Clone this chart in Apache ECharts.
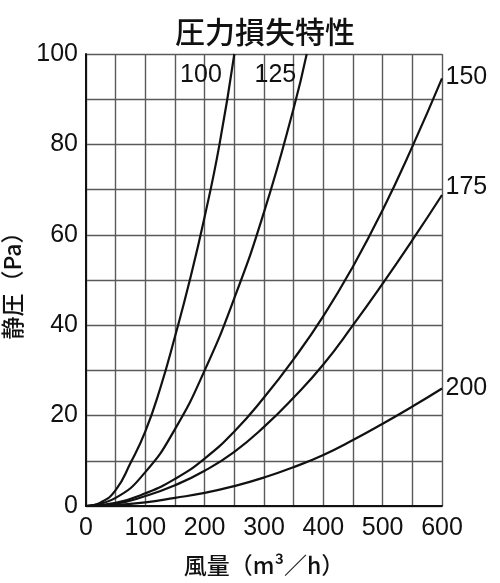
<!DOCTYPE html>
<html>
<head>
<meta charset="utf-8">
<script src="https://cdn.jsdelivr.net/npm/echarts@6/dist/echarts.min.js"></script>
<style>
  html, body { margin: 0; padding: 0; background: #fff; }
  #chart { width: 500px; height: 583px; }
</style>
</head>
<body>
<div id="chart"></div>
<script>
// 風量 (m3/h) と 静圧 (Pa) の読み取り値
var curveNames = ['100', '125', '150', '175', '200'];

var flow100 = [0, 25, 50, 75, 100, 125, 150, 175, 200, 225, 250];
var pa100   = [0, 0.8, 3.5, 9.5, 16.5, 26, 37.5, 50, 64, 80, 100];

var flow125 = [0, 50, 100, 150, 200, 250, 300, 350, 372];
var pa125   = [0, 1.8, 7.5, 17, 30, 46, 65, 88, 100];

var flow150 = [0, 50, 100, 150, 200, 250, 300, 350, 400, 450, 500, 550, 600];
var pa150   = [0, 0.7, 2.8, 6, 10.5, 16.5, 24, 32.5, 42, 53, 65.5, 79.5, 94.6];

var flow175 = [0, 50, 100, 150, 200, 250, 300, 350, 400, 450, 500, 550, 600];
var pa175   = [0, 0.5, 2.2, 4.6, 7.8, 12, 17.5, 24, 31.3, 40, 49.2, 58.8, 68.8];

var flow200 = [0, 50, 100, 150, 200, 250, 300, 350, 400, 450, 500, 550, 600];
var pa200   = [0, 0.2, 0.8, 1.8, 2.9, 4.4, 6.3, 8.6, 11.3, 14.6, 18.2, 22, 26];

var xTicks = [0, 100, 200, 300, 400, 500, 600];
var yTicks = [0, 20, 40, 60, 80, 100];

var flows = [flow100, flow125, flow150, flow175, flow200];
var pas = [pa100, pa125, pa150, pa175, pa200];

// ラベル位置（曲線の終点からのずれ）
var labelPos = [
  { position: [-12, 22], align: 'right' },
  { position: [-10, 22], align: 'right' },
  { position: [4, -1], align: 'left' },
  { position: [4, -7], align: 'left' },
  { position: [4, 0], align: 'left' }
];

var latin = "'Liberation Sans', Arial, 'Noto Sans CJK JP', sans-serif";
var cjk = "'Noto Sans CJK JP', 'Liberation Sans', sans-serif";
var gridColor = '#5a5a5a';

function pairs(xs, ys) {
  var out = [];
  for (var i = 0; i < xs.length; i++) {
    out.push([xs[i], ys[i]]);
  }
  return out;
}

var series = curveNames.map(function (name, i) {
  var xs = flows[i], ys = pas[i];
  var last = xs.length - 1;
  return {
    name: name,
    type: 'line',
    data: pairs(xs, ys),
    smooth: 0.5,
    symbol: 'none',
    clip: true,
    lineStyle: { color: '#111', width: 2.2 },
    markPoint: {
      silent: true,
      symbol: 'circle',
      symbolSize: 1,
      itemStyle: { color: 'transparent' },
      label: {
        show: true,
        formatter: name,
        position: labelPos[i].position,
        align: labelPos[i].align,
        verticalAlign: 'middle',
        fontFamily: latin,
        fontSize: 25,
        color: '#111'
      },
      data: [{ coord: [xs[last], ys[last]] }]
    },
    z: 5
  };
});

var chart = echarts.init(document.getElementById('chart'));
chart.setOption({
  animation: false,
  backgroundColor: '#fff',
  title: {
    text: '圧力損失特性',
    left: 260,
    top: 12,
    textAlign: 'center',
    textStyle: { fontFamily: cjk, fontSize: 30, fontWeight: 500, color: '#111' }
  },
  grid: { left: 86, right: 58, top: 54, bottom: 77, outerBoundsMode: 'none', containLabel: false },
  xAxis: {
    type: 'value',
    min: xTicks[0],
    max: xTicks[xTicks.length - 1],
    interval: 100,
    name: '風量（m³／h）',
    nameLocation: 'middle',
    nameGap: 48,
    nameTextStyle: { fontFamily: cjk, fontSize: 23, fontWeight: 500, color: '#111' },
    axisLine: { show: true, lineStyle: { color: '#111', width: 2 } },
    axisTick: { show: false },
    axisLabel: { fontFamily: latin, fontSize: 25, color: '#111', margin: 10 },
    splitLine: { show: true, lineStyle: { color: gridColor, width: 1.4 } },
    minorTick: { show: false, splitNumber: 2 },
    minorSplitLine: { show: true, lineStyle: { color: gridColor, width: 1.4 } }
  },
  yAxis: {
    type: 'value',
    min: yTicks[0],
    max: yTicks[yTicks.length - 1],
    interval: 20,
    name: '静圧（Pa）',
    nameLocation: 'middle',
    nameGap: 62,
    nameTextStyle: { fontFamily: cjk, fontSize: 23, fontWeight: 500, color: '#111' },
    axisLine: { show: true, lineStyle: { color: '#111', width: 2 } },
    axisTick: { show: false },
    axisLabel: { fontFamily: latin, fontSize: 25, color: '#111', margin: 8 },
    splitLine: { show: true, lineStyle: { color: gridColor, width: 1.4 } },
    minorTick: { show: false, splitNumber: 2 },
    minorSplitLine: { show: true, lineStyle: { color: gridColor, width: 1.4 } }
  },
  series: series
});
</script>
</body>
</html>
